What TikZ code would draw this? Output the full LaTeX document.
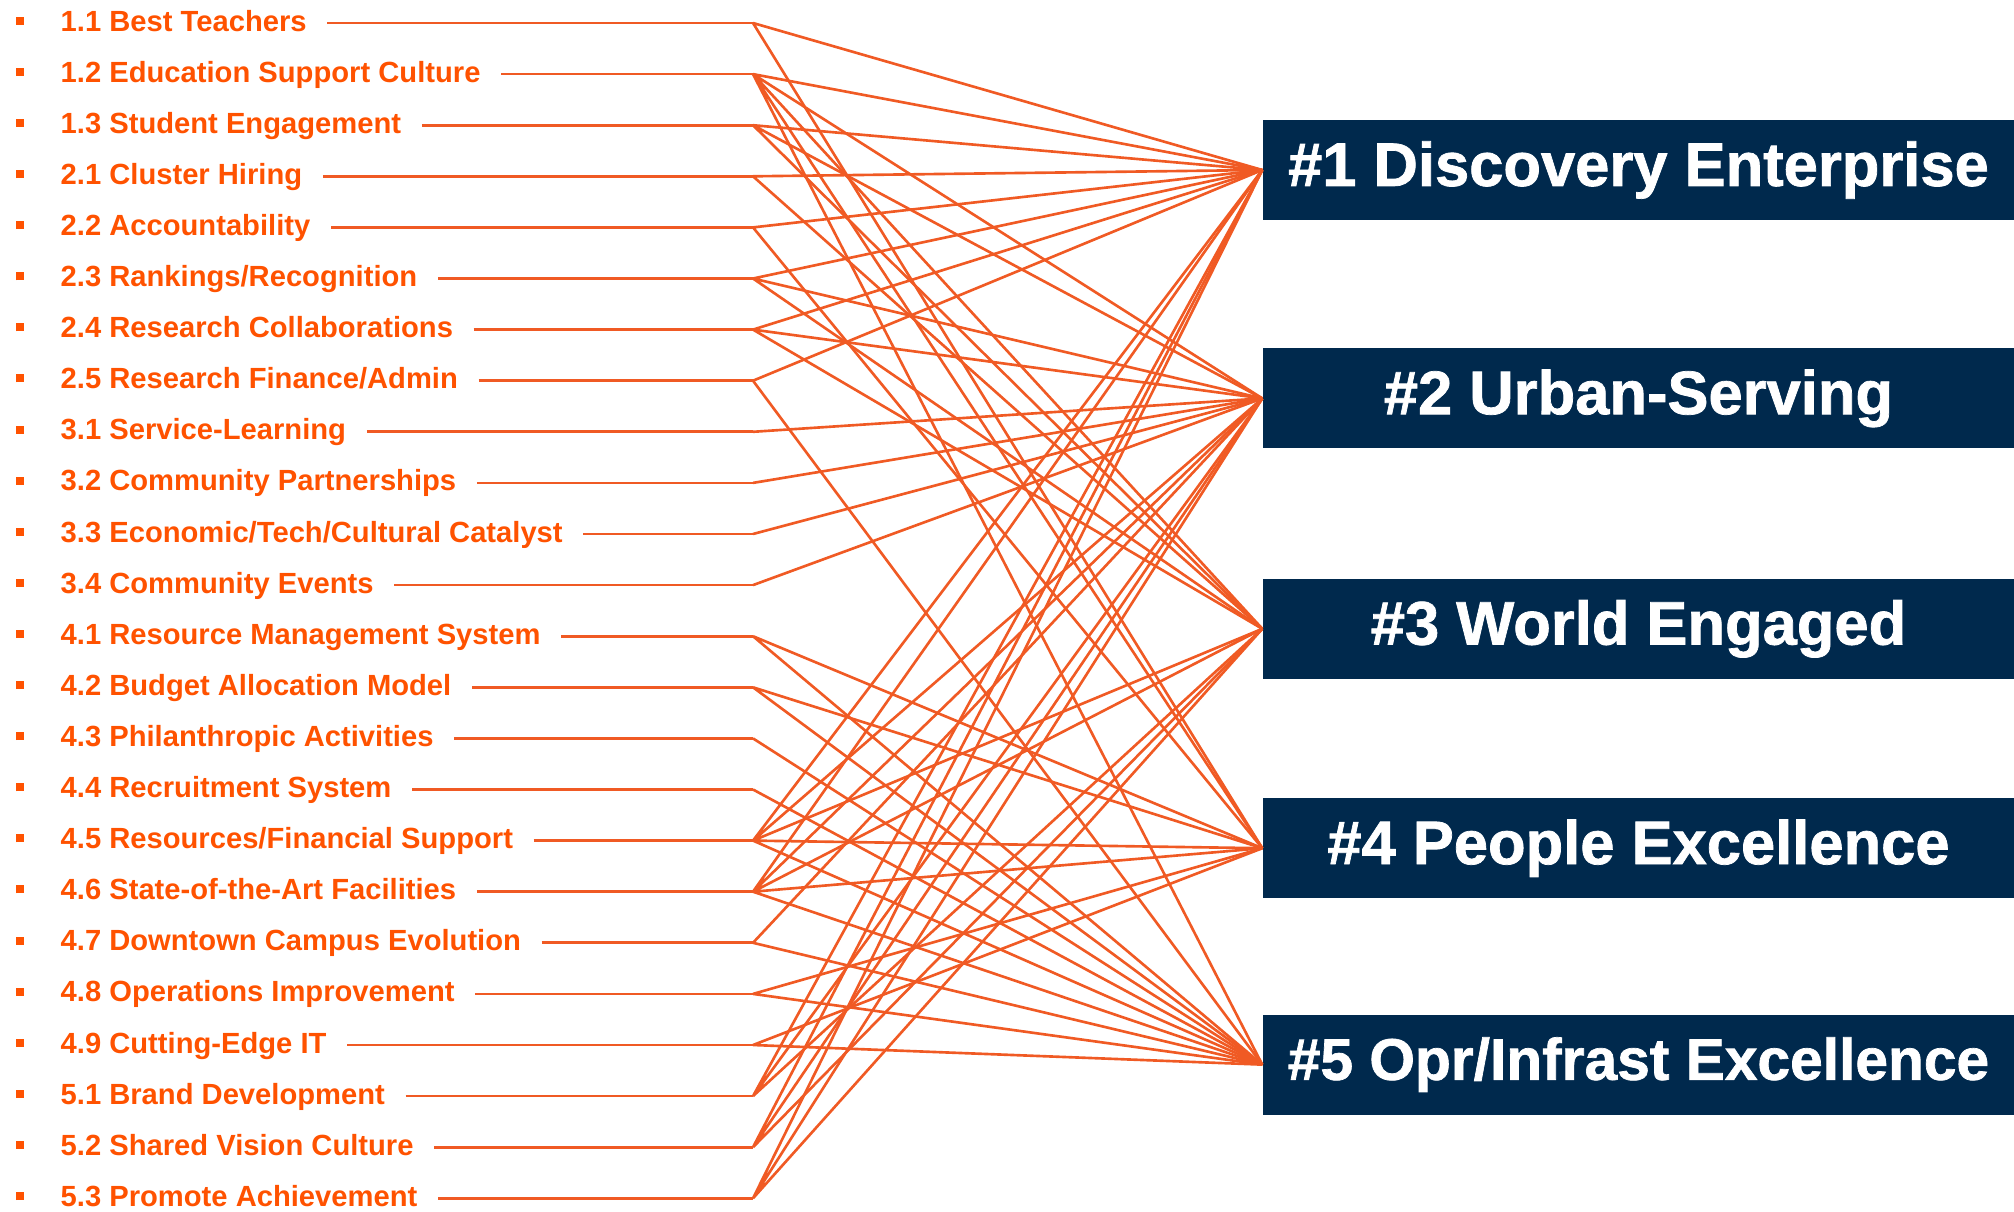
\documentclass[tikz,border=0pt]{standalone}
\usepackage{fontspec}
\setmainfont{Liberation Sans}
\newfontfamily\goalfont[FakeBold=1.2]{Liberation Sans Bold}
\usetikzlibrary{positioning}
\definecolor{linkorange}{RGB}{240,90,36}
\definecolor{itemorange}{RGB}{255,82,0}
\definecolor{goalnavy}{RGB}{0,41,77}
\newcommand{\bul}{\raisebox{1.8pt}{\rule{0.08cm}{0.08cm}}\hspace{0.37cm}}

\begin{document}
\begin{tikzpicture}[node distance=0.511cm,
  item/.style={anchor=west, inner sep=0pt, text height=4.6pt, text depth=0pt,
    text=itemorange, font=\bfseries\fontsize{8.3}{10}\selectfont},
  goal/.style={fill=goalnavy, text=white, minimum width=7.51cm,
    minimum height=1cm, inner sep=0pt, font=\goalfont\fontsize{17.5}{20}\selectfont},
  link/.style={draw=linkorange, line width=0.75pt}]
\useasboundingbox (0,0) rectangle (20.14,-12.12);
% strategies
\node[item] (t11) at (0.15,-0.23) {\bul 1.1 Best Teachers};
\node[item, below=of t11.west, anchor=west] (t12) {\bul 1.2 Education Support Culture};
\node[item, below=of t12.west, anchor=west] (t13) {\bul 1.3 Student Engagement};
\node[item, below=of t13.west, anchor=west] (t21) {\bul 2.1 Cluster Hiring};
\node[item, below=of t21.west, anchor=west] (t22) {\bul 2.2 Accountability};
\node[item, below=of t22.west, anchor=west] (t23) {\bul 2.3 Rankings/Recognition};
\node[item, below=of t23.west, anchor=west] (t24) {\bul 2.4 Research Collaborations};
\node[item, below=of t24.west, anchor=west] (t25) {\bul 2.5 Research Finance/Admin};
\node[item, below=of t25.west, anchor=west] (t31) {\bul 3.1 Service-Learning};
\node[item, below=of t31.west, anchor=west] (t32) {\bul 3.2 Community Partnerships};
\node[item, below=of t32.west, anchor=west] (t33) {\bul 3.3 Economic/Tech/Cultural Catalyst};
\node[item, below=of t33.west, anchor=west] (t34) {\bul 3.4 Community Events};
\node[item, below=of t34.west, anchor=west] (t41) {\bul 4.1 Resource Management System};
\node[item, below=of t41.west, anchor=west] (t42) {\bul 4.2 Budget Allocation Model};
\node[item, below=of t42.west, anchor=west] (t43) {\bul 4.3 Philanthropic Activities};
\node[item, below=of t43.west, anchor=west] (t44) {\bul 4.4 Recruitment System};
\node[item, below=of t44.west, anchor=west] (t45) {\bul 4.5 Resources/Financial Support};
\node[item, below=of t45.west, anchor=west] (t46) {\bul 4.6 State-of-the-Art Facilities};
\node[item, below=of t46.west, anchor=west] (t47) {\bul 4.7 Downtown Campus Evolution};
\node[item, below=of t47.west, anchor=west] (t48) {\bul 4.8 Operations Improvement};
\node[item, below=of t48.west, anchor=west] (t49) {\bul 4.9 Cutting-Edge IT};
\node[item, below=of t49.west, anchor=west] (t51) {\bul 5.1 Brand Development};
\node[item, below=of t51.west, anchor=west] (t52) {\bul 5.2 Shared Vision Culture};
\node[item, below=of t52.west, anchor=west] (t53) {\bul 5.3 Promote Achievement};
% goals
\node[goal] (b1) at (16.385,-1.70) {\#1 Discovery Enterprise};
\node[goal, below=1.27cm of b1] (b2) {\#2 Urban-Serving};
\node[goal, below=1.29cm of b2] (b3) {\#3 World Engaged};
\node[goal, below=1.18cm of b3] (b4) {\#4 People Excellence};
\node[goal, below=1.15cm of b4, font=\goalfont\fontsize{16.7}{20}\selectfont] (b5) {\#5 Opr/Infrast Excellence};
% junctions
\coordinate (jx) at (7.53,0);
\foreach \n in {11,12,13,21,22,23,24,25,31,32,33,34,41,42,43,44,45,46,47,48,49,51,52,53}
  {\coordinate (j\n) at (t\n.west -| jx);
   \draw[link] ([xshift=0.2cm]t\n.east) -- (j\n);}
% links
\draw[link] (j11) -- (b1.west) (j11) -- (b4.west);
\draw[link] (j12) -- (b1.west) (j12) -- (b2.west) (j12) -- (b3.west) (j12) -- (b4.west) (j12) -- (b5.west);
\draw[link] (j13) -- (b1.west) (j13) -- (b2.west) (j13) -- (b3.west);
\draw[link] (j21) -- (b1.west) (j21) -- (b3.west);
\draw[link] (j22) -- (b1.west) (j22) -- (b4.west);
\draw[link] (j23) -- (b1.west) (j23) -- (b2.west) (j23) -- (b3.west);
\draw[link] (j24) -- (b1.west) (j24) -- (b2.west) (j24) -- (b3.west);
\draw[link] (j25) -- (b1.west) (j25) -- (b5.west);
\draw[link] (j31) -- (b2.west);
\draw[link] (j32) -- (b2.west);
\draw[link] (j33) -- (b2.west);
\draw[link] (j34) -- (b2.west);
\draw[link] (j41) -- (b4.west) (j41) -- (b5.west);
\draw[link] (j42) -- (b4.west) (j42) -- (b5.west);
\draw[link] (j43) -- (b5.west);
\draw[link] (j44) -- (b5.west);
\draw[link] (j45) -- (b1.west) (j45) -- (b2.west) (j45) -- (b3.west) (j45) -- (b4.west) (j45) -- (b5.west);
\draw[link] (j46) -- (b1.west) (j46) -- (b2.west) (j46) -- (b3.west) (j46) -- (b4.west) (j46) -- (b5.west);
\draw[link] (j47) -- (b2.west) (j47) -- (b5.west);
\draw[link] (j48) -- (b4.west) (j48) -- (b5.west);
\draw[link] (j49) -- (b4.west) (j49) -- (b5.west);
\draw[link] (j51) -- (b1.west) (j51) -- (b2.west) (j51) -- (b3.west);
\draw[link] (j52) -- (b1.west) (j52) -- (b2.west) (j52) -- (b3.west);
\draw[link] (j53) -- (b1.west) (j53) -- (b2.west) (j53) -- (b3.west);
\end{tikzpicture}
\end{document}
